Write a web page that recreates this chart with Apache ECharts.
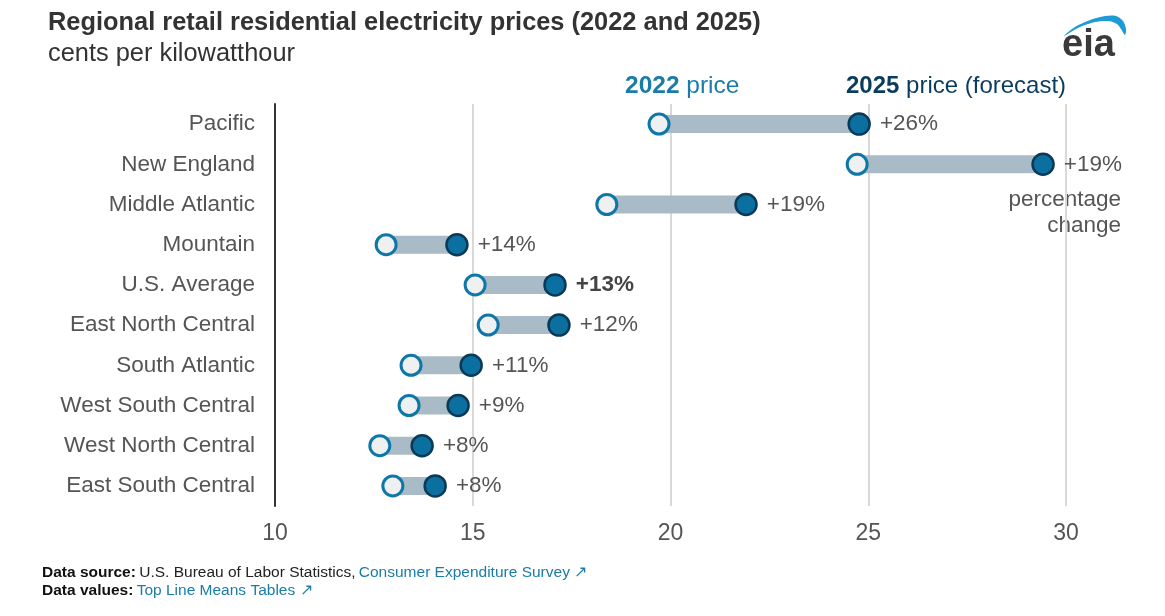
<!DOCTYPE html>
<html>
<head>
<meta charset="utf-8">
<script src="https://cdn.jsdelivr.net/npm/echarts@6/dist/echarts.min.js"></script>
<style>html,body{margin:0;padding:0;background:#fff}#c{width:1165px;height:616px}</style>
</head>
<body>
<div id="c"></div>
<script>
const categories = ['Pacific','New England','Middle Atlantic','Mountain','U.S. Average','East North Central','South Atlantic','West South Central','West North Central','East South Central'];
const price2022 = [19.71, 24.72, 18.39, 12.81, 15.06, 15.39, 13.44, 13.39, 12.65, 12.98];
const price2025 = [24.77, 29.42, 21.91, 14.60, 17.08, 17.18, 14.96, 14.63, 13.72, 14.05];
const pctLabels = ['+26%','+19%','+19%','+14%','+13%','+12%','+11%','+9%','+8%','+8%'];
const xTicks = [10, 15, 20, 25, 30];

const FONT = '"Liberation Sans", Arial, sans-serif';
const chart = echarts.init(document.getElementById('c'));
chart.setOption({
  animation: false,
  backgroundColor: '#fff',
  grid: { left: 275, right: 99, top: 104, bottom: 110, containLabel: false },
  xAxis: {
    type: 'value', min: xTicks[0], max: xTicks[xTicks.length-1], interval: 5,
    axisLine: { show: false }, axisTick: { show: false },
    axisLabel: { color: '#555', fontSize: 23, fontFamily: FONT, margin: 16 },
    splitLine: { show: true, lineStyle: { color: '#d9d9d9', width: 2 } }
  },
  yAxis: {
    type: 'category', data: categories, inverse: true,
    axisLine: { show: true, lineStyle: { color: '#333', width: 2 } },
    axisTick: { show: false },
    axisLabel: { color: '#555', fontSize: 22.5, fontFamily: FONT, margin: 20 },
    splitLine: { show: false }
  },
  series: [
    {
      type: 'custom',
      encode: { x: [0, 1], y: 2 },
      data: categories.map((c, i) => [price2022[i], price2025[i], i]),
      renderItem: function (params, api) {
        const s = api.coord([api.value(0), api.value(2)]);
        const e = api.coord([api.value(1), api.value(2)]);
        return { type: 'rect', shape: { x: s[0], y: s[1] - 9, width: e[0] - s[0], height: 18 }, style: { fill: '#a8bbc6' } };
      },
      z: 2
    },
    {
      type: 'scatter', name: '2022',
      data: price2022.map((v, i) => [v, i]),
      symbol: 'circle', symbolSize: 20,
      itemStyle: { color: '#eef0f2', borderColor: '#0f77a8', borderWidth: 3, opacity: 1 },
      z: 3
    },
    {
      type: 'scatter', name: '2025',
      data: price2025.map((v, i) => [v, i]),
      symbol: 'circle', symbolSize: 21,
      itemStyle: { color: '#0b6fa0', borderColor: '#0b3a58', borderWidth: 2.5, opacity: 1 },
      label: {
        show: true, position: 'right', distance: 9,
        formatter: function (p) { return p.dataIndex === 4 ? '{b|' + pctLabels[p.dataIndex] + '}' : '{n|' + pctLabels[p.dataIndex] + '}'; },
        rich: {
          n: { color: '#555', fontSize: 22.5, fontFamily: FONT },
          b: { color: '#444', fontSize: 22.5, fontWeight: 'bold', fontFamily: FONT }
        }
      },
      z: 4
    }
  ],
  graphic: [
    { type: 'text', left: 48, top: 10, style: { text: 'Regional retail residential electricity prices (2022 and 2025)', fill: '#333', font: 'bold 25.4px ' + FONT } },
    { type: 'text', left: 48, top: 41, style: { text: 'cents per kilowatthour', fill: '#333', font: '25.4px ' + FONT } },
    { type: 'text', left: 625, top: 74, style: { text: '{b|2022}{n| price}', rich: { b: { fill: '#1a7ca8', font: 'bold 24.5px ' + FONT }, n: { fill: '#1a7ca8', font: '24.5px ' + FONT } } } },
    { type: 'text', left: 846, top: 74, style: { text: '{b|2025}{n| price (forecast)}', rich: { b: { fill: '#0b3c5d', font: 'bold 24px ' + FONT }, n: { fill: '#0b3c5d', font: '24px ' + FONT } } } },
    { type: 'text', x: 1121, y: 187, style: { text: 'percentage\nchange', fill: '#555', font: '22.5px ' + FONT, align: 'right', verticalAlign: 'top', lineHeight: 26 } },
    { type: 'text', left: 1062, top: 27, style: { text: 'eia', fill: '#3a3a3a', font: 'bold 38px ' + FONT } },
    { type: 'polygon', shape: { smooth: 0.3, points: [[1064,36],[1075,27],[1090,20],[1105,16],[1116,16],[1123,21],[1126,29],[1125,35],[1121,29],[1117,24],[1108,21],[1095,22],[1080,27]] }, style: { fill: '#1e9ad6' } },
    { type: 'text', left: 42, top: 565, style: { text: '{b|Data source:} {n|U.S. Bureau of Labor Statistics,} {l|Consumer Expenditure Survey ↗}', rich: { b: { fill: '#111', font: 'bold 15.5px ' + FONT }, n: { fill: '#222', font: '15.5px ' + FONT }, l: { fill: '#1a7ca8', font: '15.5px ' + FONT } } } },
    { type: 'text', left: 42, top: 583, style: { text: '{b|Data values:} {l|Top Line Means Tables ↗}', rich: { b: { fill: '#111', font: 'bold 15.5px ' + FONT }, l: { fill: '#1a7ca8', font: '15.5px ' + FONT } } } }
  ]
});
</script>
</body>
</html>
